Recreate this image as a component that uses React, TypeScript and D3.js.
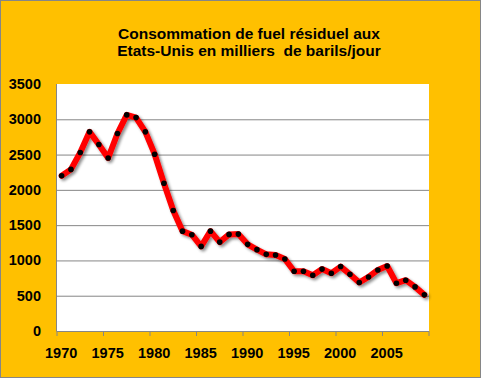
import React from "react";
import * as d3 from "d3";

const years: number[] = d3.range(1970, 2010);
const values: number[] = [
  2200, 2290, 2530, 2822, 2643, 2451, 2798, 3062, 3024, 2822,
  2505, 2093, 1707, 1415, 1364, 1199, 1415, 1260, 1369, 1373,
  1228, 1153, 1086, 1077, 1020, 847, 847, 790, 877, 818,
  913, 804, 687, 766, 865, 921, 677, 720, 625, 512,
];
const yTicks: number[] = [0, 500, 1000, 1500, 2000, 2500, 3000, 3500];
const xLabels: number[] = [1970, 1975, 1980, 1985, 1990, 1995, 2000, 2005];
const titleLines: string[] = [
  "Consommation de fuel résiduel aux",
  "Etats-Unis en milliers  de barils/jour",
];

export default function App() {
  const W = 483, H = 380;
  const left = 57, right = 429, top = 84, bottom = 331;
  const font = "'Liberation Sans', Arial, sans-serif";

  const x = d3.scaleBand<number>().domain(years).range([left, right]).padding(0);
  const y = d3.scaleLinear().domain([0, 3500]).range([bottom, top]);
  const cx = (yr: number) => (x(yr) as number) + x.bandwidth() / 2;

  const data = years.map((yr, i) => ({ yr, v: values[i] }));
  const line = d3
    .line<{ yr: number; v: number }>()
    .x((d) => cx(d.yr))
    .y((d) => y(d.v))
    .curve(d3.curveLinear);
  const path = line(data) || "";

  const tickYears = d3.range(1970, 2011, 5);
  const tickX = (yr: number) => left + (yr - 1970) * x.bandwidth();

  return (
    <svg
      width={W}
      height={H}
      style={{ position: "absolute", left: 0, top: 0, display: "block" }}
    >
      <defs>
        <filter id="sh" x="-10%" y="-10%" width="120%" height="130%">
          <feGaussianBlur in="SourceAlpha" stdDeviation="1.5" />
          <feOffset dx="1.5" dy="2" result="b" />
          <feComponentTransfer>
            <feFuncA type="linear" slope="0.45" />
          </feComponentTransfer>
          <feMerge>
            <feMergeNode />
            <feMergeNode in="SourceGraphic" />
          </feMerge>
        </filter>
      </defs>
      <rect x={0} y={0} width={W} height={H} fill="#ffffff" />
      <rect x={0.5} y={0.5} width={480} height={377} fill="#FFC000" stroke="#868686" strokeWidth={1} />
      {titleLines.map((t, i) => (
        <text
          key={i}
          x={249}
          y={39 + i * 16.5}
          textAnchor="middle"
          fontFamily={font}
          fontWeight="bold"
          fontSize={15.5}
          fill="#000"
          style={{ whiteSpace: "pre" }}
        >
          {t}
        </text>
      ))}
      <rect x={left} y={top} width={right - left} height={bottom - top} fill="#ffffff" />
      {yTicks.map((t) => (
        <g key={t}>
          {t > 0 && t < 3500 && (
            <line x1={left} x2={right} y1={y(t) + 0.5} y2={y(t) + 0.5} stroke="#868686" strokeWidth={1} />
          )}
          <text
            x={41}
            y={y(t) + 5}
            textAnchor="end"
            fontFamily={font}
            fontWeight="bold"
            fontSize={14.5}
            fill="#000"
          >
            {t}
          </text>
        </g>
      ))}
      <line x1={left - 0.5} x2={left - 0.5} y1={top} y2={bottom} stroke="#868686" strokeWidth={1} />
      <line x1={left - 0.5} x2={right} y1={bottom + 0.5} y2={bottom + 0.5} stroke="#868686" strokeWidth={1} />
      {tickYears.map((yr) => (
        <line key={yr} x1={tickX(yr)} x2={tickX(yr)} y1={bottom} y2={bottom + 5} stroke="#868686" strokeWidth={1} />
      ))}
      {xLabels.map((yr) => (
        <text
          key={yr}
          x={cx(yr) - 0.5}
          y={358}
          textAnchor="middle"
          fontFamily={font}
          fontWeight="bold"
          fontSize={14.5}
          fill="#000"
        >
          {yr}
        </text>
      ))}
      <g filter="url(#sh)">
        <path d={path} fill="none" stroke="#FF0000" strokeWidth={6} strokeLinejoin="round" strokeLinecap="round" />
      </g>
      {data.map((d) => (
        <circle key={d.yr} cx={cx(d.yr)} cy={y(d.v)} r={2.8} fill="#000" />
      ))}
    </svg>
  );
}
